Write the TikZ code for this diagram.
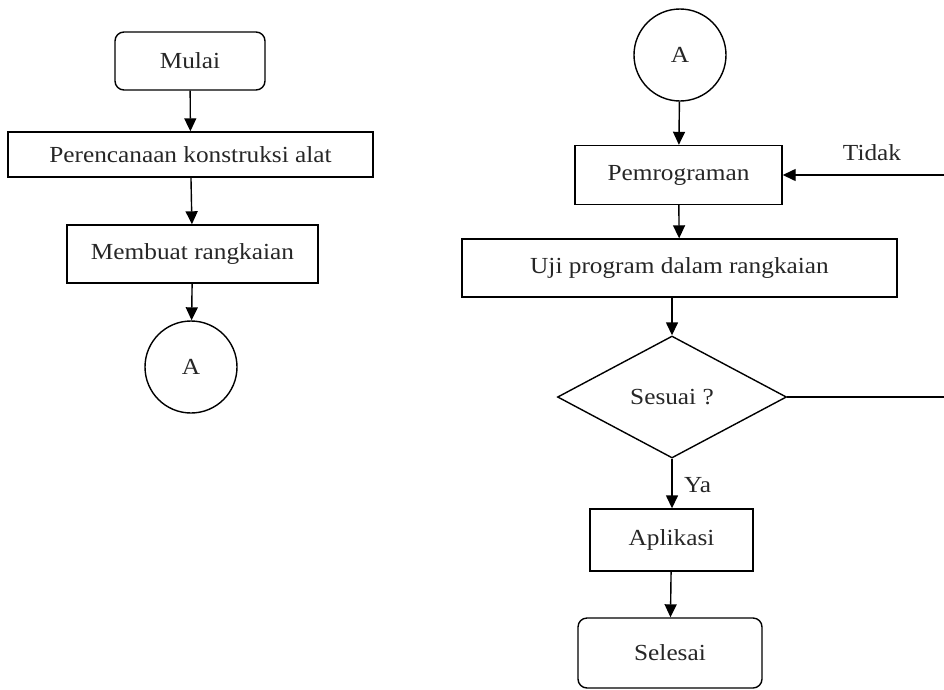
\documentclass[tikz,border=0pt]{standalone}
\usepackage{fontspec}
\setmainfont{Liberation Serif}[FakeStretch=1.1]
\usetikzlibrary{shapes.geometric,arrows.meta}
\begin{document}
\begin{tikzpicture}[x=1pt,y=-1pt,
  every node/.style={font=\fontsize{23}{26}\selectfont, text=black!85},
  proc/.style={draw, line width=1.4pt, rectangle, inner sep=0pt},
  term/.style={proc, rounded corners=9pt},
  conn/.style={draw, circle, line width=1.4pt, minimum size=92pt, inner sep=0pt},
  decide/.style={draw, diamond, line width=1.4pt, minimum width=229pt, minimum height=122pt, inner sep=0pt},
  flow/.style={line width=1.4pt, -{Triangle[length=13pt,width=12pt]}},
  line/.style={line width=1.4pt}]
\useasboundingbox (0,0) rectangle (944,689);
\clip (0,0) rectangle (944,689);

% left column
\node[term, minimum width=150pt, minimum height=58pt] (mulai) at (190,61) {Mulai};
\node[proc, minimum width=365pt, minimum height=45pt] (rencana) at (190.5,154.5) {Perencanaan konstruksi alat};
\node[proc, minimum width=251pt, minimum height=58pt] (rangkai) at (192.5,254) {Membuat rangkaian};
\node[conn] (a1) at (191,367) {A};

\draw[flow] (mulai) -- (rencana);
\draw[flow] (rencana) -- (rangkai);
\draw[flow] (rangkai) -- (a1);

% right column
\node[conn] (a2) at (680,55) {A};
\node[proc, minimum width=207pt, minimum height=59pt] (prog) at (678.5,175) {Pemrograman};
\node[proc, minimum width=435pt, minimum height=58pt] (uji) at (679.5,268) {Uji program dalam rangkaian};
\node[decide] (sesuai) at (672,397) {Sesuai ?};
\node[proc, minimum width=163pt, minimum height=62pt] (apl) at (671.5,540) {Aplikasi};
\node[term, minimum width=184pt, minimum height=70pt] (selesai) at (670,653) {Selesai};

\draw[flow] (a2) -- (prog);
\draw[flow] (prog) -- (uji);
\draw[flow] (uji.south -| sesuai.north) -- (sesuai.north);
\draw[flow] (sesuai.south) -- node[right, xshift=8pt, yshift=-2pt] (ya) {Ya} (apl.north -| sesuai.south);
\draw[flow] (apl) -- (selesai);

% loop back when the test fails
\path (sesuai.east) -- ++(180,0) coordinate (back);
\draw[line] (sesuai.east) -- (back);
\draw[flow] (back) |- (prog.east);
\node (tidak) at (872,153) {Tidak};
\end{tikzpicture}
\end{document}
